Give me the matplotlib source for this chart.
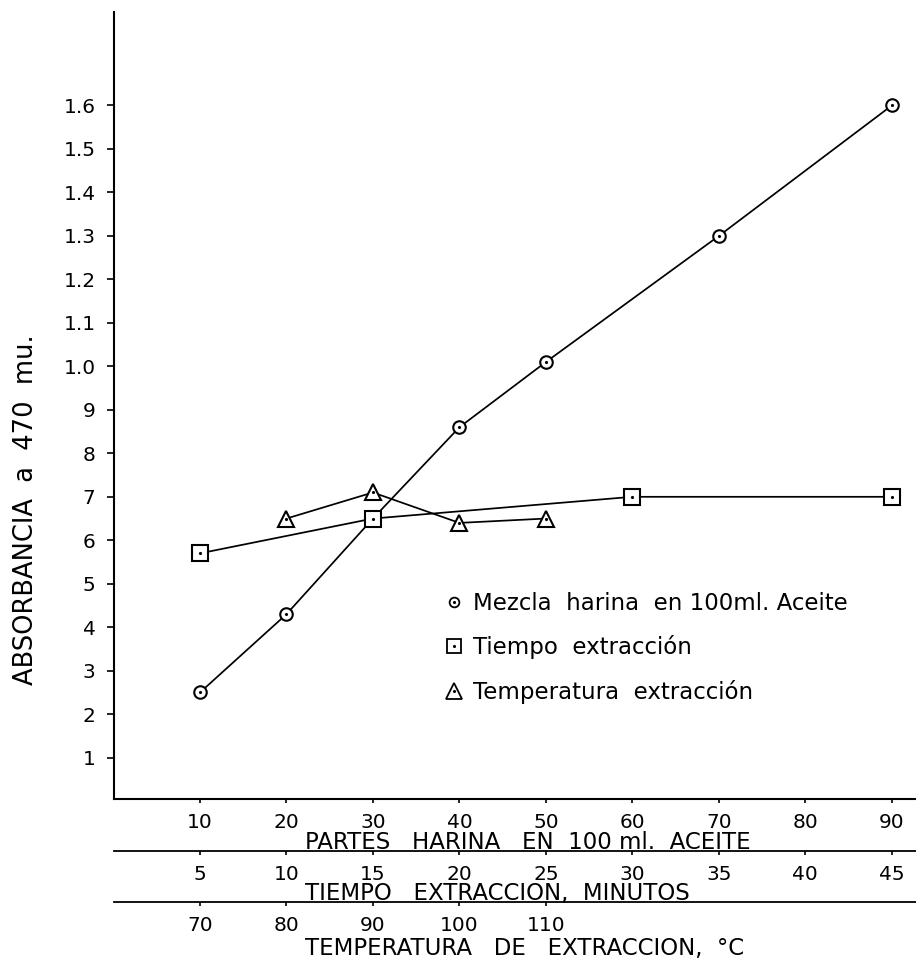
import numpy as np
import matplotlib.pyplot as plt
from matplotlib.lines import Line2D

# datos
partes = [10, 20, 30, 40, 50, 70, 90]
abs_mezcla = [0.25, 0.43, 0.65, 0.86, 1.01, 1.30, 1.60]

tiempo = [5, 15, 30, 45]
abs_tiempo = [0.57, 0.65, 0.70, 0.70]

temperatura = [80, 90, 100, 110]
abs_temp = [0.65, 0.71, 0.64, 0.65]

y_ticks = [0.1, 0.2, 0.3, 0.4, 0.5, 0.6, 0.7, 0.8, 0.9,
           1.0, 1.1, 1.2, 1.3, 1.4, 1.5, 1.6]
y_labels = ['1', '2', '3', '4', '5', '6', '7', '8', '9',
            '1.0', '1.1', '1.2', '1.3', '1.4', '1.5', '1.6']
partes_ticks = [10, 20, 30, 40, 50, 60, 70, 80, 90]
tiempo_ticks = [5, 10, 15, 20, 25, 30, 35, 40, 45]
temp_ticks = [70, 80, 90, 100, 110]

labels = ['Mezcla  harina  en 100ml. Aceite',
          'Tiempo  extracción',
          'Temperatura  extracción']

plt.rcParams['font.family'] = ['DejaVu Sans']

W, H = 916, 967
fig = plt.figure(figsize=(W / 100, H / 100), dpi=100)
ax = fig.add_axes([113.5 / W, (H - 799) / H, (W - 113.5) / W, (799 - 12) / H])

ax.set_xlim(0, 92.8)
ax.set_ylim(0.005, 1.815)
for s in ['top', 'right']:
    ax.spines[s].set_visible(False)
ax.spines['left'].set_linewidth(1.5)
ax.spines['bottom'].set_linewidth(1.5)

ax.set_yticks(y_ticks)
ax.set_yticklabels(y_labels)
ax.set_xticks(partes_ticks)
ax.tick_params(axis='y', length=5, width=1.2, pad=8, labelsize=14.5)
ax.tick_params(axis='x', length=3, width=1.2, pad=7, labelsize=14.5)

# ejes secundarios de tiempo y temperatura
def extra_axis(xlim, offset, ticks):
    a = ax.twiny()
    a.set_xlim(*xlim)
    a.xaxis.set_ticks_position('bottom')
    a.spines['bottom'].set_position(('outward', offset))
    a.spines['bottom'].set_linewidth(1.3)
    for s in ['top', 'left', 'right']:
        a.spines[s].set_visible(False)
    a.set_xticks(ticks)
    a.tick_params(axis='x', length=3, width=1.2, pad=7, labelsize=14.5)
    return a

ax_t = extra_axis((0, 46.4), 37.4, tiempo_ticks)
ax_temp = extra_axis((60, 152.8), 74.2, temp_ticks)

mk = dict(color='black', lw=1.25, mfc='white', mec='black', mew=1.5)
dot = dict(ls='none', marker='.', color='black', ms=2.5)

ax.plot(partes, abs_mezcla, marker='o', ms=9, **mk)
ax.plot(partes, abs_mezcla, **dot)
ax_t.plot(tiempo, abs_tiempo, marker='s', ms=11.5, **mk)
ax_t.plot(tiempo, abs_tiempo, **dot)
ax_temp.plot(temperatura, abs_temp, marker='^', ms=12, **mk)
ax_temp.plot(temperatura, abs_temp, **dot)

# leyenda
h_c = (Line2D([], [], ls='none', marker='o', ms=7, mfc='white', mec='black', mew=1.3),
       Line2D([], [], **dot))
h_s = (Line2D([], [], ls='none', marker='s', ms=10, mfc='white', mec='black', mew=1.3),
       Line2D([], [], **dot))
h_t = (Line2D([], [], ls='none', marker='^', ms=11, mfc='white', mec='black', mew=1.3),
       Line2D([], [], **dot))
ax_temp.legend([h_c, h_s, h_t], labels, loc='upper left',
               bbox_to_anchor=(445 / W, 1 - 592 / H), bbox_transform=fig.transFigure,
               frameon=False, fontsize=16.5, handlelength=0.8, handletextpad=0.42,
               labelspacing=0.89, borderpad=0, borderaxespad=0)

# titulos de los ejes
ax.set_ylabel('ABSORBANCIA  a  470  mu.', fontsize=18.5)
ax.yaxis.set_label_coords(39 / W, 1 - 510 / H, transform=fig.transFigure)
fig.text(305 / W, 1 - 849 / H, 'PARTES   HARINA   EN  100 ml.  ACEITE',
         fontsize=16.5, va='baseline', ha='left')
fig.text(305 / W, 1 - 900 / H, 'TIEMPO   EXTRACCION,  MINUTOS',
         fontsize=16.5, va='baseline', ha='left')
fig.text(305 / W, 1 - 955 / H, 'TEMPERATURA   DE   EXTRACCION,  °C',
         fontsize=16.5, va='baseline', ha='left')

fig.savefig('out.png', dpi=100)
